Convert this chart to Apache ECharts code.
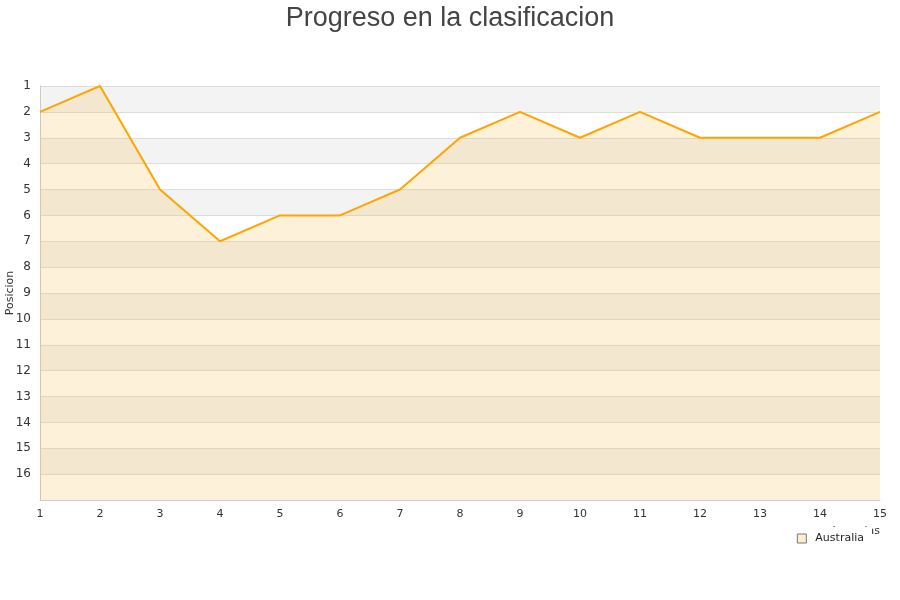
<!DOCTYPE html>
<html>
<head>
<meta charset="utf-8">
<script src="https://cdn.jsdelivr.net/npm/echarts@6/dist/echarts.min.js"></script>
<style>html,body{margin:0;padding:0;background:#fff;}#c{width:900px;height:600px;}</style>
</head>
<body>
<div id="c"></div>
<script>
var jornadas = ['1','2','3','4','5','6','7','8','9','10','11','12','13','14','15'];
var australia = [2,1,5,7,6,6,5,3,2,3,2,3,3,3,2];
var seriesName = 'Australia';

var chart = echarts.init(document.getElementById('c'), null, {renderer: 'canvas'});
chart.setOption({
  animation: false,
  backgroundColor: '#fff',
  title: {
    text: 'Progreso en la clasificacion',
    left: 'center',
    top: 0,
    textStyle: {fontFamily: 'Liberation Sans', fontSize: 27, fontWeight: 'normal', color: '#444'}
  },
  legend: {
    data: [seriesName],
    right: 28,
    top: 527,
    padding: [6, 8, 6, 6],
    itemWidth: 9,
    itemHeight: 9,
    itemGap: 8,
    backgroundColor: '#fff',
    icon: 'rect',
    itemStyle: {color: '#feedcc', borderColor: '#777', borderWidth: 1},
    textStyle: {fontFamily: 'DejaVu Sans', fontSize: 11, color: '#222', padding: [0, 0, 0, 4]}
  },
  grid: {left: 40, right: 20, top: 86, bottom: 100, containLabel: false, outerBoundsMode: 'none'},
  xAxis: {
    type: 'category',
    data: jornadas,
    boundaryGap: false,
    name: 'Jornadas',
    nameLocation: 'end',
    nameGap: 0,
    nameMoveOverlap: false,
    nameTextStyle: {fontFamily: 'DejaVu Sans', fontSize: 11, color: '#333', align: 'right', verticalAlign: 'top', padding: [26, 0, 0, 0]},
    axisLine: {lineStyle: {color: '#ccc'}},
    axisTick: {show: false},
    axisLabel: {fontFamily: 'DejaVu Sans', fontSize: 11, color: '#333', margin: 9},
    splitLine: {show: false}
  },
  yAxis: {
    type: 'value',
    inverse: true,
    min: 1,
    max: 17,
    interval: 1,
    name: 'Posicion',
    nameLocation: 'middle',
    nameGap: 24,
    nameMoveOverlap: false,
    nameTextStyle: {fontFamily: 'DejaVu Sans', fontSize: 11, color: '#333'},
    axisLine: {show: true, lineStyle: {color: '#ccc'}},
    axisTick: {show: false},
    axisLabel: {
      fontFamily: 'DejaVu Sans', fontSize: 12, color: '#333', margin: 9,
      formatter: function (v) { return v === 17 ? '' : String(v); }
    },
    splitLine: {show: true, lineStyle: {color: '#ddd'}},
    splitArea: {show: true, areaStyle: {color: ['#f3f3f3', '#ffffff']}}
  },
  series: [{
    name: seriesName,
    type: 'line',
    data: australia,
    showSymbol: false,
    symbol: 'none',
    lineStyle: {color: '#ffa500', width: 2},
    itemStyle: {color: '#ffa500'},
    areaStyle: {origin: 'end', color: 'rgba(251,183,51,0.27)'}
  }]
});
</script>
</body>
</html>
